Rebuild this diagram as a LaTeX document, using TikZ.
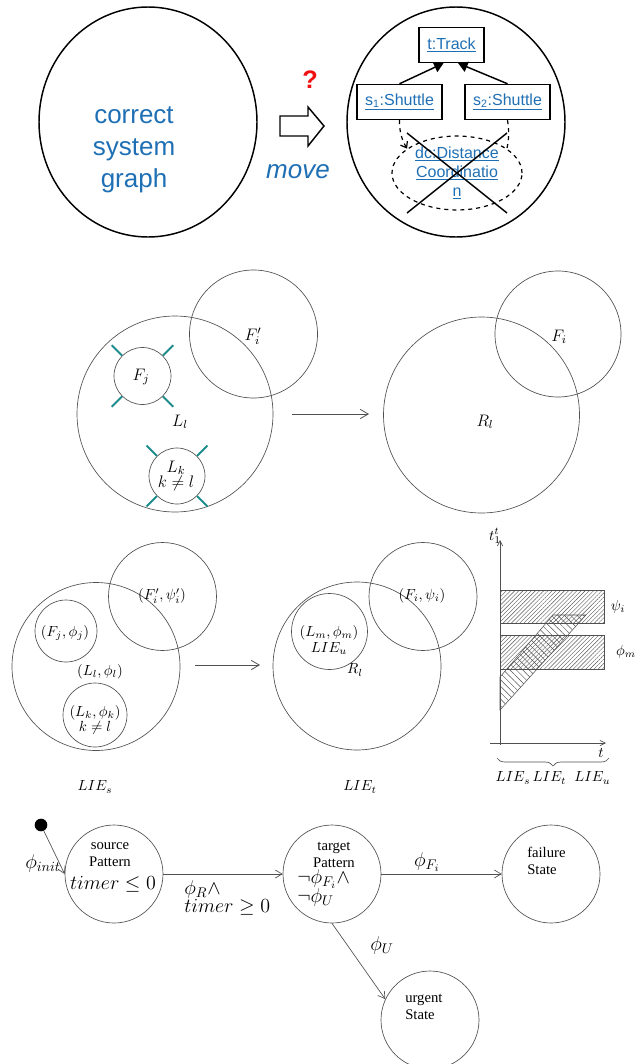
\RequirePackage{fix-cm}
\documentclass[tikz,border=0pt]{standalone}
\usepackage{fontspec}
\newfontfamily\arialfont{Liberation Sans}
\newfontfamily\timesfont{Liberation Serif}
\definecolor{SysBlue}{HTML}{1F6FB4}
\definecolor{QuestRed}{HTML}{F01010}
\definecolor{TickTeal}{HTML}{1E8C8C}
\definecolor{LineGray}{HTML}{505050}
\usetikzlibrary{shapes.geometric,arrows.meta,positioning,calc,patterns.meta,decorations.pathreplacing}
\tikzset{
    % Top row: rewrite question
    oval/.style={
        ellipse,
        draw,
        line width=1.1pt,
        minimum width=163.5pt,
        minimum height=172.5pt,
        inner sep=0pt
    },
    big text/.style={
        align=center,
        text=SysBlue,
        font=\arialfont\fontsize{19.5}{24}\selectfont
    },
    objbox/.style={
        rectangle,
        draw,
        line width=1.1pt,
        minimum height=26.25pt,
        inner sep=1pt,
        text=SysBlue,
        font=\arialfont\fontsize{12}{14}\selectfont
    },
    dash oval/.style={
        ellipse,
        draw,
        dashed,
        line width=0.9pt,
        minimum width=97.5pt,
        minimum height=49.5pt,
        inner sep=0pt,
        align=center,
        text=SysBlue,
        font=\arialfont\fontsize{12}{14.25}\selectfont
    },
    assoc/.style={
        line width=1.1pt,
        -{Triangle[length=7pt,width=8pt]}
    },
    dash link/.style={
        dashed,
        line width=0.9pt
    },
    cross line/.style={
        line width=1.1pt
    },
    % Venn style diagrams
    venn/.style={
        circle,
        draw=LineGray,
        line width=0.5pt,
        inner sep=0pt
    },
    forbid/.style={
        draw=TickTeal,
        line width=1.5pt
    },
    lbl/.style={
        font=\fontsize{12.5}{14}\selectfont,
        inner sep=1pt,
        align=center
    },
    small lbl/.style={
        font=\fontsize{11}{11.5}\selectfont,
        inner sep=1pt,
        align=center
    },
    rule arrow/.style={
        draw=LineGray,
        line width=0.6pt,
        -{Straight Barb[length=6pt,width=7pt]}
    },
    hatch/.style={
        draw=LineGray,
        line width=0.4pt,
        pattern={Lines[angle=45,distance=2.2pt,line width=0.3pt]},
        pattern color=LineGray
    },
    band/.style={
        draw=LineGray,
        line width=0.4pt,
        pattern={Lines[angle=-45,distance=3.4pt,line width=0.35pt]},
        pattern color=LineGray
    },
    % Automaton
    state/.style={
        circle,
        draw=LineGray,
        line width=0.5pt,
        minimum size=73.5pt,
        inner sep=0pt
    },
    state text/.style={
        align=center,
        inner sep=0pt,
        font=\timesfont\fontsize{11}{12.75}\selectfont
    },
    cond/.style={
        align=left,
        inner sep=0pt,
        font=\fontsize{15}{15}\selectfont
    },
    trans/.style={
        draw=LineGray,
        line width=0.5pt,
        -{Straight Barb[length=5pt,width=6pt]}
    }
}

\begin{document}
\begin{tikzpicture}[x=0.75pt, y=-0.75pt]
    \useasboundingbox (0,0) rectangle (637,1064);

    % Rewrite question
    \node[oval] (sysgraph) at (148,122) {};
    \node[big text] (sysgraphtext) at (134,150) {correct\\system\\graph};
    \node[text=QuestRed, font=\arialfont\bfseries\fontsize{19}{22}\selectfont] (question) at (310,80) {?};
    \draw[line width=1.1pt] (280,116) -- (308,116) -- (308,107) -- (324,126) -- (308,146) -- (308,136) -- (280,136) -- cycle;
    \node[text=SysBlue, font=\arialfont\itshape\fontsize{19.5}{22}\selectfont] (movelabel) at (298,172) {move};
    \node[oval] (result) at (456,122) {};
    \node[objbox, minimum width=48.75pt] (track) at (451.5,45) {\underline{t:Track}};
    \node[objbox, minimum width=63.75pt] (shuttleA) at (399.5,102) {\underline{s\textsubscript{1}:Shuttle}};
    \node[objbox, minimum width=63.75pt] (shuttleB) at (507.5,102) {\underline{s\textsubscript{2}:Shuttle}};
    \node[dash oval] (distcoord) at (457,173) {\underline{dc:Distance}\\\underline{Coordinatio}\\\underline{n}};
    \draw[assoc] (shuttleA.north) -- ([xshift=-6pt]track.south);
    \draw[assoc] (shuttleB.north) -- ([xshift=5pt]track.south);
    \draw[dash link, -{Straight Barb[length=4pt,width=6pt]}] (shuttleA.south) to[bend right=15] (distcoord.154);
    \draw[dash link] (shuttleB.south) to[bend left=10] (distcoord.26);
    \coordinate (crossNW) at (407,133);
    \coordinate (crossNE) at (507,133);
    \coordinate (crossSW) at (407,213);
    \coordinate (crossSE) at (507,213);
    \draw[cross line] (crossNW) -- (crossSE);
    \draw[cross line] (crossNE) -- (crossSW);

    % Rule sets
    \node[venn, minimum size=147pt] (Ll) at (175,414) {};
    \node[venn, minimum size=96pt] (Fip) at (253.5,334) {};
    \node[venn, minimum size=42.75pt] (Fj) at (142.5,376) {};
    \node[venn, minimum size=42pt] (Lk) at (177,476) {};
    \foreach \a in {45,135,225,315} {
        \draw[forbid] (Fj.\a) -- ++(\a:11pt);
        \draw[forbid] (Lk.\a) -- ++(\a:11pt);
    }
    \node[lbl] (FipLabel) at (253,336) {$F_i'$};
    \node[lbl] (FjLabel) at (141,377) {$F_j$};
    \node[lbl] (LlLabel) at (180,422) {$L_l$};
    \node[lbl, font=\fontsize{12.5}{9.5}\selectfont] (LkLabel) at (176,476) {$L_k$\\$k\neq l$};
    \coordinate (ruleFrom) at (292,414);
    \coordinate (ruleTo) at (369,414);
    \draw[rule arrow] (ruleFrom) -- (ruleTo);
    \node[venn, minimum size=147pt] (Rl) at (481.5,415) {};
    \node[venn, minimum size=94.5pt] (Fi) at (558,334) {};
    \node[lbl] (RlLabel) at (485,422) {$R_l$};
    \node[lbl] (FiLabel) at (559,337) {$F_i$};

    % Rule sets with invariants
    \node[venn, minimum size=126pt] (invLl) at (96,666.5) {};
    \node[venn, minimum size=81pt] (invFip) at (162.5,596.5) {};
    \node[venn, minimum size=46.5pt] (invFj) at (66,631) {};
    \node[venn, minimum size=48pt] (invLk) at (95,715) {};
    \node[small lbl] (invFipLabel) at (162,596) {$(F_i',\psi_i')$};
    \node[small lbl] (invFjLabel) at (65,633) {$(F_j,\phi_j)$};
    \node[small lbl] (invLlLabel) at (100,672) {$(L_l,\phi_l)$};
    \node[small lbl] (invLkLabel) at (95,720) {$(L_k,\phi_k)$\\$k\neq l$};
    \coordinate (invFrom) at (195,665);
    \coordinate (invTo) at (260,665);
    \draw[rule arrow] (invFrom) -- (invTo);
    \node[venn, minimum size=126pt] (invRl) at (357,666) {};
    \node[venn, minimum size=57pt] (invLm) at (329.5,631.5) {};
    \node[venn, minimum size=81pt] (invFi) at (423,596.5) {};
    \node[small lbl] (invLmLabel) at (329,640) {$(L_m,\phi_m)$\\$LIE_u$};
    \node[small lbl] (invRlLabel) at (355,670) {$R_l$};
    \node[small lbl] (invFiLabel) at (422,596) {$(F_i,\psi_i)$};
    \node[small lbl] (lieS) at (95,787) {$LIE_s$};
    \node[small lbl] (lieT) at (360,787) {$LIE_t$};

    % Time chart
    \draw[hatch] (500,590) rectangle (604,623);
    \draw[hatch] (500,635) rectangle (604,669);
    \draw[band] (500,710) -- (500,677) -- (553,615) -- (586,615) -- cycle;
    \draw[draw=LineGray, line width=0.5pt, -{Straight Barb[length=4pt,width=4pt]}] (500,745) -- (500,540);
    \draw[draw=LineGray, line width=0.5pt, -{Straight Barb[length=4pt,width=4pt]}] (490,743) -- (606,743);
    \node[small lbl] (tAxisUp) at (495,536) {$t_1^t$};
    \node[small lbl] (tAxisRight) at (601,753) {$t$};
    \node[small lbl] (psiLabel) at (618,607) {$\psi_i$};
    \node[small lbl] (phiLabel) at (626,652) {$\phi_m$};
    \draw[draw=LineGray, line width=0.5pt, decorate, decoration={brace, mirror, amplitude=6pt}] (497,758) -- (609,758);
    \node[small lbl] (lieAll) at (553,778) {$LIE_s\,LIE_t\;\;LIE_u$};

    % Automaton
    \node[circle, fill=black, minimum size=9.5pt, inner sep=0pt] (initdot) at (41,825) {};
    \node[state] (source) at (114,874) {};
    \node[state] (target) at (332,874) {};
    \node[state] (failure) at (551,874) {};
    \node[state] (urgent) at (430,1020) {};
    \node[state text] (sourcetxt) at (110,854.5) {source\\Pattern};
    \node[cond] (sourcecond) at (113,884) {$timer\leq 0$};
    \node[state text] (targettxt) at (334,854.5) {target\\Pattern};
    \node[cond, anchor=west, font=\fontsize{15}{14.25}\selectfont] (targetcond) at (297,888) {$\neg\phi_{F_i}\wedge$\\$\neg\phi_U$};
    \node[state text, align=left, anchor=west] (failuretxt) at (527,860.5) {failure\\State};
    \node[state text, align=left, anchor=west] (urgenttxt) at (405,1007) {urgent\\State};

    % Transitions
    \draw[trans] (initdot) -- (source.west);
    \draw[trans] (source.east) -- (target.west);
    \draw[trans] (target.east) -- (failure.west);
    \draw[trans] (target.south) -- (urgent.155);
    \node[cond] (initLabel) at (43,863) {$\phi_{init}$};
    \node[cond, anchor=west, font=\fontsize{15}{13.5}\selectfont] (ruleLabel) at (184,898) {$\phi_R\wedge$\\$timer\geq 0$};
    \node[cond] (failLabel) at (427,862) {$\phi_{F_i}$};
    \node[cond] (urgentLabel) at (382,945) {$\phi_U$};
\end{tikzpicture}
\end{document}
